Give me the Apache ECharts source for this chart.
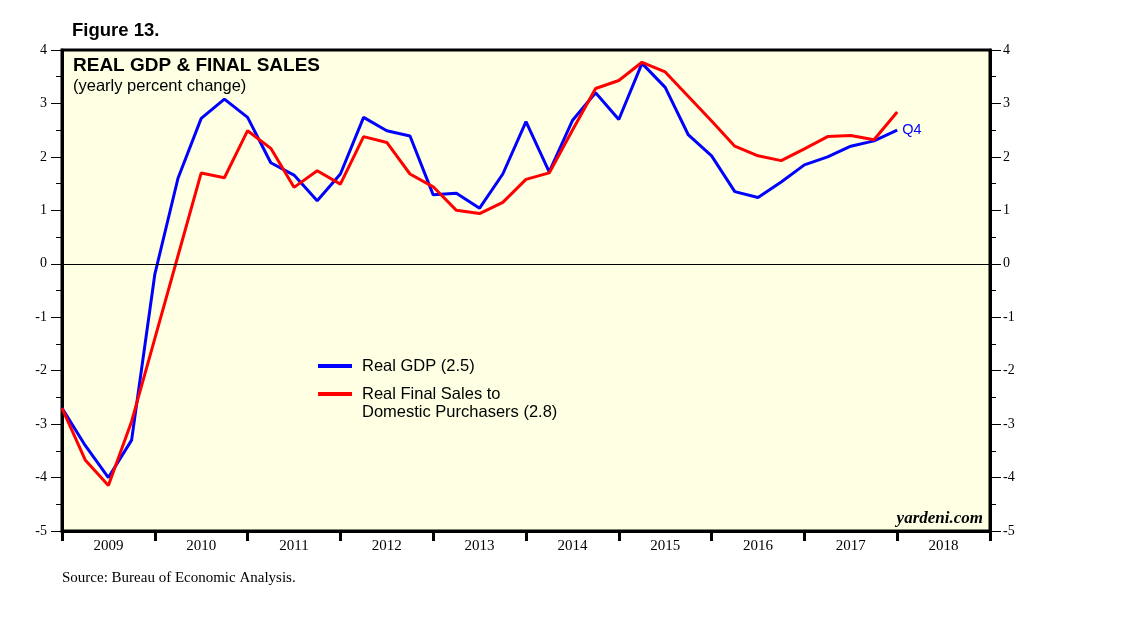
<!DOCTYPE html>
<html><head><meta charset="utf-8">
<script src="https://cdn.jsdelivr.net/npm/echarts@6/dist/echarts.min.js"></script>
<style>html,body{margin:0;padding:0;background:#fff}#c{width:1138px;height:621px}</style>
</head><body><div id="c"></div><script>
const quarters = ['2008Q4',
  '2009Q1','2009Q2','2009Q3','2009Q4',
  '2010Q1','2010Q2','2010Q3','2010Q4',
  '2011Q1','2011Q2','2011Q3','2011Q4',
  '2012Q1','2012Q2','2012Q3','2012Q4',
  '2013Q1','2013Q2','2013Q3','2013Q4',
  '2014Q1','2014Q2','2014Q3','2014Q4',
  '2015Q1','2015Q2','2015Q3','2015Q4',
  '2016Q1','2016Q2','2016Q3','2016Q4',
  '2017Q1','2017Q2','2017Q3','2017Q4'];
const realGDP = [-2.7,-3.4,-4.0,-3.3,-0.2,1.6,2.72,3.08,2.74,1.89,1.66,1.18,1.68,2.74,2.49,2.39,1.29,1.32,1.04,1.68,2.66,1.72,2.68,3.20,2.70,3.75,3.30,2.41,2.02,1.35,1.24,1.53,1.85,2.00,2.20,2.30,2.50];
const finalSales = [-2.7,-3.67,-4.15,-2.95,-1.4,0.15,1.70,1.61,2.49,2.16,1.43,1.74,1.49,2.38,2.27,1.68,1.44,1.00,0.94,1.15,1.58,1.70,2.50,3.28,3.43,3.77,3.59,3.13,2.67,2.20,2.02,1.93,2.15,2.38,2.40,2.32,2.84];
const yearLabels = ['2009','2010','2011','2012','2013','2014','2015','2016','2017','2018'];
const gdpName = 'Real GDP (2.5)';
const fsName = 'Real Final Sales to Domestic Purchasers (2.8)';

// quarter-end position in decimal years
function qpos(q){ return +q.slice(0,4) + (+q.slice(5))/4; }
const gdpData = quarters.map((q,i)=>[qpos(q), realGDP[i]]);
const fsData = quarters.map((q,i)=>[qpos(q), finalSales[i]]);

const SERIF = '"Liberation Serif", "Times New Roman", serif';
const SANS = '"Liberation Sans", Arial, sans-serif';
const yMin = -5, yMax = 4;
const xMin = +yearLabels[0], xMax = +yearLabels[yearLabels.length-1] + 1;

const chart = echarts.init(document.getElementById('c'));
chart.setOption({
  animation: false,
  backgroundColor: '#fff',
  title: {
    text: 'REAL GDP & FINAL SALES',
    subtext: '(yearly percent change)',
    left: 73, top: 56, itemGap: 3, padding: 0,
    textStyle: {fontFamily: SANS, fontWeight: 'bold', fontSize: 19, color: '#000'},
    subtextStyle: {fontFamily: SANS, fontSize: 16.5, color: '#000'}
  },
  grid: {left: 62, right: 148, top: 50, bottom: 90, show: true,
    backgroundColor: '#FFFFE4', borderColor: '#000', borderWidth: 3},
  legend: {
    orient: 'vertical', left: 318, top: 357, itemWidth: 34, itemHeight: 4, itemGap: -8,
    icon: 'rect', padding: 0,
    textStyle: {fontFamily: SANS, fontSize: 16.5, color: '#000', lineHeight: 18, padding: [0,0,0,5]},
    data: [{name: gdpName}, {name: fsName}],
    formatter: n => n === fsName ? ' \nReal Final Sales to\nDomestic Purchasers (2.8)' : n
  },
  xAxis: [
    {type: 'value', min: xMin, max: xMax, interval: 1, position: 'bottom',
      axisLine: {show: true, onZero: false, lineStyle: {color: '#000', width: 3}},
      axisTick: {show: true, length: 10, lineStyle: {color: '#000', width: 3}},
      axisLabel: {show: false}, splitLine: {show: false}},
    {type: 'value', min: xMin, max: xMax, interval: 0.5, position: 'bottom',
      axisLine: {show: false, onZero: false}, axisTick: {show: false}, splitLine: {show: false},
      axisLabel: {show: true, margin: 8, fontFamily: SERIF, fontSize: 15, color: '#000',
        formatter: v => (v % 1 === 0.5) ? yearLabels[Math.floor(v) - xMin] : ''}}
  ],
  yAxis: [
    {type: 'value', min: yMin, max: yMax, interval: 1, position: 'left',
      axisLine: {show: true, onZero: false, lineStyle: {color: '#000', width: 3}},
      axisTick: {show: true, inside: false, length: 11, lineStyle: {color: '#000', width: 1}},
      minorTick: {show: true, splitNumber: 2, length: 6, lineStyle: {color: '#000', width: 1}},
      axisLabel: {margin: 15, fontFamily: SERIF, fontSize: 14, color: '#000'},
      splitLine: {show: false}},
    {type: 'value', min: yMin, max: yMax, interval: 1, position: 'right',
      axisLine: {show: true, onZero: false, lineStyle: {color: '#000', width: 3}},
      axisTick: {show: true, inside: false, length: 11, lineStyle: {color: '#000', width: 1}},
      minorTick: {show: true, splitNumber: 2, length: 6, lineStyle: {color: '#000', width: 1}},
      axisLabel: {margin: 13, fontFamily: SERIF, fontSize: 14, color: '#000'},
      splitLine: {show: false}}
  ],
  series: [
    {name: gdpName, type: 'line', data: gdpData, xAxisIndex: 0, yAxisIndex: 0,
      showSymbol: false, symbol: 'none', color: '#0000FF',
      lineStyle: {color: '#0000FF', width: 3},
      endLabel: {show: true, formatter: 'Q4', color: '#0000FF', fontFamily: SANS, fontSize: 14.5, distance: 5},
      markLine: {silent: true, symbol: 'none', label: {show: false},
        lineStyle: {color: '#000', width: 1, type: 'solid'}, data: [{yAxis: 0}]}},
    {name: fsName, type: 'line', data: fsData, xAxisIndex: 0, yAxisIndex: 0,
      showSymbol: false, symbol: 'none', color: '#FF0000',
      lineStyle: {color: '#FF0000', width: 3}}
  ],
  graphic: [
    {type: 'text', left: 72, top: 21, style: {text: 'Figure 13.', font: 'bold 18.5px ' + SANS, fill: '#000'}},
    {type: 'text', right: 1138 - 983, top: 510, style: {text: 'yardeni.com', font: 'italic bold 17px ' + SERIF, fill: '#000'}},
    {type: 'text', left: 62, top: 571, style: {text: 'Source: Bureau of Economic Analysis.', font: '15px ' + SERIF, fill: '#000'}}
  ]
});
</script></body></html>
